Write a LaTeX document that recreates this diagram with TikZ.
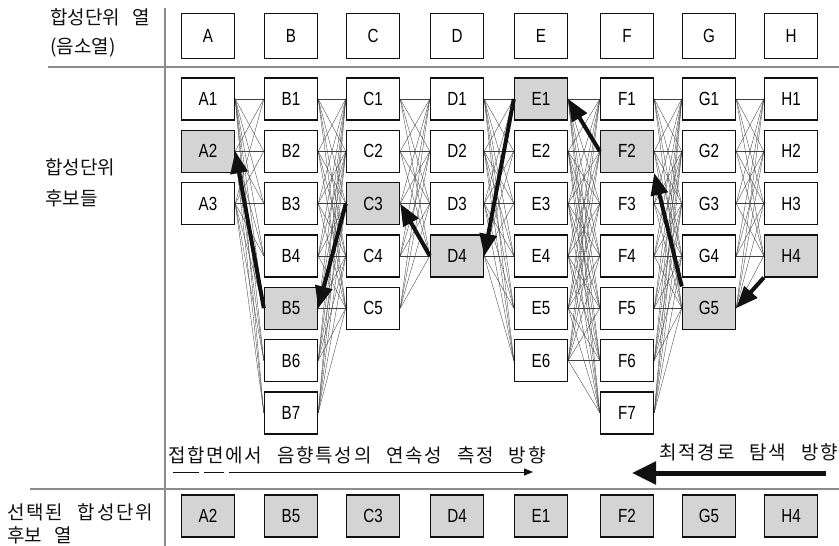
\documentclass[tikz,border=0pt]{standalone}
\usepackage{fontspec}
\usepackage{tikz}
\usetikzlibrary{arrows.meta,positioning,calc}
\newfontfamily\kofont[WordSpace=3]{Noto Sans CJK KR}
\newfontfamily\kowide[WordSpace=2.5,LetterSpace=9]{Noto Sans CJK KR}
\newfontfamily\unitfont[FakeStretch=0.8]{Liberation Sans}
\definecolor{ink}{HTML}{111111}
\definecolor{rulegray}{HTML}{8C8C8C}
\definecolor{pick}{HTML}{D4D4D4}
\definecolor{mesh}{HTML}{404040}
\tikzset{
  cand/.style={draw=ink, fill=white, line width=1.4pt, minimum width=53pt,
               minimum height=42pt, inner sep=0pt,
               font=\unitfont\fontsize{19}{21}\selectfont},
  colhead/.style={cand, line width=1.8pt, minimum height=45pt},
  chosen/.style={cand, fill=pick},
  picked/.style={cand, fill=pick, line width=1.8pt},
  link/.style={draw=mesh, line width=0.35pt},
  best/.style={-{Triangle[length=22pt,width=17pt]}, line width=4pt, draw=ink},
  measure/.style={-{Triangle[length=9pt,width=7pt]}, line width=0.8pt, draw=ink,
                  dash pattern=on 26pt off 5pt on 20pt off 5pt on 500pt off 1pt},
  search/.style={-{Triangle[length=24pt,width=22pt]}, line width=5pt, draw=ink},
  divider/.style={draw=rulegray, line width=2pt},
  kolabel/.style={font=\kofont\fontsize{19}{23}\selectfont, text=ink, inner sep=0pt},
  kowidelabel/.style={kolabel, font=\kowide\fontsize{19}{23}\selectfont}
}

\begin{document}
\begin{tikzpicture}[x=1pt,y=-1pt]
  \useasboundingbox[fill=white] (0,0) rectangle (839,546);

  % separators
  \coordinate (v0) at (165,8);
  \coordinate (v1) at (165,546);
  \coordinate (h0) at (48,67);
  \coordinate (h1) at (839,67);
  \coordinate (g0) at (30,489);
  \coordinate (g1) at (839,489);
  \draw[divider] (v0) -- (v1);
  \draw[divider] (h0) -- (h1);
  \draw[divider] (g0) -- (g1);

  % left labels
  \node[kolabel,anchor=west] (rowtop) at (50,17) {합성단위 열};
  \node[kolabel,anchor=west] (rowtopb) at (50,48) {(음소열)};
  \node[kolabel,anchor=west] (rowmid) at (45,167) {합성단위};
  \node[kolabel,anchor=west] (rowmidb) at (45,198) {후보들};
  \node[kowidelabel,anchor=west] (rowbot) at (7,512) {선택된 합성단위};
  \node[kolabel,anchor=west] (rowbotb) at (7,535) {후보 열};

  % columns, candidates and the chosen sequence
  \foreach \c/\x/\n/\s in {A/208/3/2, B/291/7/5, C/373/5/3, D/457/4/4,
                           E/541/6/1, F/627/7/2, G/709/5/5, H/791/4/4} {
    \node[colhead] (\c) at (\x,36) {\c};
    \foreach \r in {1,...,\n} {
      \ifnum\r=\s\def\sty{chosen}\else\def\sty{cand}\fi
      \node[\sty] (\c\r) at (\x,{99+52.3*(\r-1)}) {\c\r};
    }
    \node[picked] (s\c) at (\x,516) {\c\s};
  }

  % all joins between neighbouring columns
  \foreach \a/\na/\b/\nb in {A/3/B/7, B/7/C/5, C/5/D/4, D/4/E/6,
                             E/6/F/7, F/7/G/5, G/5/H/4} {
    \foreach \i in {1,...,\na}
      \foreach \j in {1,...,\nb}
        \draw[link] (\a\i.east) -- (\b\j.west);
  }

  % back-tracked best path
  \draw[best] (H4.south west) -- (G5.east);
  \draw[best] (G5.north west) -- (F2.south east);
  \draw[best] (F2.west) -- (E1.east);
  \draw[best] (E1.west) -- (D4.east);
  \draw[best] (D4.west) -- (C3.east);
  \draw[best] (C3.west) -- (B5.east);
  \draw[best] (B5.west) -- (A2.east);

  % directions
  \node[kowidelabel,anchor=west] (dirmeas) at (168,455)
    {접합면에서 음향특성의 연속성 측정 방향};
  \node[kowidelabel,anchor=east] (dirsrch) at (838,452) {최적경로 탐색 방향};
  \coordinate (m0) at (173,472);
  \coordinate (m1) at (533,472);
  \coordinate (p0) at (826,473);
  \coordinate (p1) at (632,473);
  \draw[measure] (m0) -- (m1);
  \draw[search] (p0) -- (p1);
\end{tikzpicture}
\end{document}
